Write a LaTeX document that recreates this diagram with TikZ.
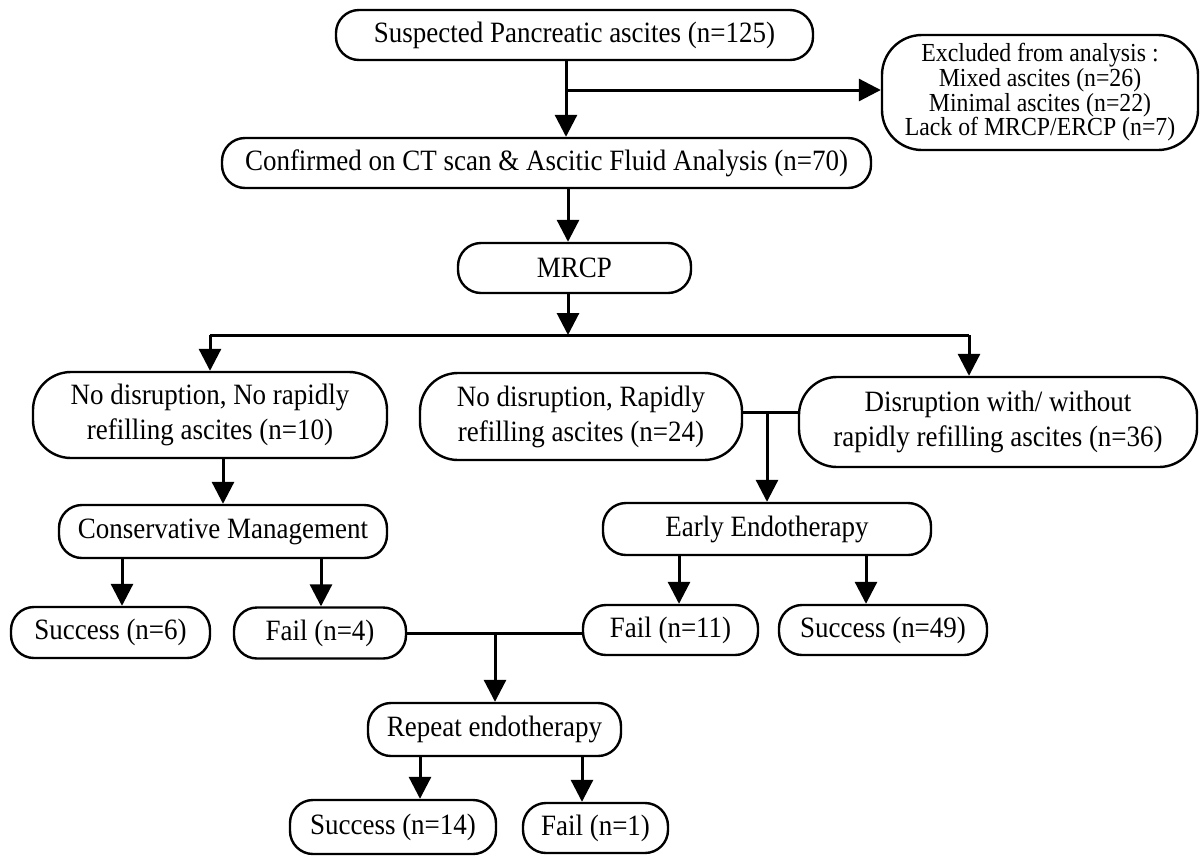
\documentclass[tikz,border=0pt]{standalone}
\usepackage{fontspec}
\setmainfont{Liberation Serif}[FakeStretch=0.915]
\usetikzlibrary{arrows.meta}
\begin{document}
\begin{tikzpicture}[x=1pt,y=-1pt,
  box/.style={draw, line width=2.4pt, rounded corners=23pt, align=center, inner sep=0pt,
    font=\fontsize{29.5}{35}\selectfont},
  tall/.style={box, rounded corners=38pt},
  arr/.style={line width=3pt, -{Triangle[length=22pt,width=22pt]}},
  conn/.style={line width=3pt}]
\fill[white] (0,0) rectangle (1200,855);
\useasboundingbox (0,0) rectangle (1200,855);

% nodes
\node[box, minimum width=477pt, minimum height=50pt] (sus) at (574.5,35) {Suspected Pancreatic ascites (n=125)};
\node[box, rounded corners=40pt, minimum width=316pt, minimum height=115pt,
  font=\fontsize{26}{24.7}\selectfont] (excl) at (1040,92.5)
  {Excluded from analysis :\\ Mixed ascites (n=26)\\ Minimal ascites (n=22)\\ Lack of MRCP/ERCP (n=7)};
\node[box, minimum width=649pt, minimum height=50pt] (conf) at (546.5,163) {Confirmed on CT scan \& Ascitic Fluid Analysis (n=70)};
\node[box, minimum width=233pt, minimum height=50pt] (mrcp) at (574.5,268) {MRCP};
\node[tall, minimum width=354pt, minimum height=86pt] (nd1) at (210,415) {No disruption, No rapidly\\ refilling ascites (n=10)};
\node[tall, minimum width=322pt, minimum height=87pt] (nd2) at (581,416.5) {No disruption, Rapidly\\ refilling ascites (n=24)};
\node[tall, minimum width=398pt, minimum height=90pt] (dis) at (998,422) {Disruption with/ without\\ rapidly refilling ascites (n=36)};
\node[box, minimum width=328pt, minimum height=53pt] (cons) at (223,531.5) {Conservative Management};
\node[box, minimum width=328pt, minimum height=52pt] (early) at (767,529) {Early Endotherapy};
\node[box, minimum width=199pt, minimum height=51pt] (s6) at (110.5,632.5) {Success (n=6)};
\node[box, minimum width=172pt, minimum height=51pt] (f4) at (320,633) {Fail (n=4)};
\node[box, minimum width=175pt, minimum height=50pt] (f11) at (670.5,630) {Fail (n=11)};
\node[box, minimum width=208pt, minimum height=50pt] (s49) at (883,630) {Success (n=49)};
\node[box, minimum width=253pt, minimum height=53pt] (rep) at (494.5,729.5) {Repeat endotherapy};
\node[box, minimum width=206pt, minimum height=54pt] (s14) at (393,827) {Success (n=14)};
\node[box, minimum width=145pt, minimum height=50pt] (f1) at (595.5,828) {Fail (n=1)};

% helper coordinates
\coordinate (xa) at (566,0);
\coordinate (b1) at (566,90);
\coordinate (xb) at (568,0);
\coordinate (j1) at (568,335);
\coordinate (jl) at (210,335);
\coordinate (jr) at (969,335);
\coordinate (j2) at (767,412);
\coordinate (xc) at (122,0);
\coordinate (xd) at (321,0);
\coordinate (xe) at (679,0);
\coordinate (xf) at (866,0);
\coordinate (j3) at (495,633);
\coordinate (xg) at (420,0);
\coordinate (xh) at (582,0);

% connectors
\draw[arr] (sus.south -| xa) -- (conf.north -| xa);
\draw[arr] (b1) -- (b1 -| excl.west);
\draw[arr] (conf.south -| xb) -- (mrcp.north -| xb);
\draw[arr] (mrcp.south -| j1) -- (j1);
\draw[conn] (jl) -- (jr);
\draw[arr] (jl) -- (jl |- nd1.north);
\draw[arr] (jr) -- (jr |- dis.north);
\draw[conn] (nd2.east |- j2) -- (dis.west |- j2);
\draw[arr] (j2) -- (early.north);
\draw[arr] (nd1.south -| cons) -- (cons.north);
\draw[arr] (cons.south -| xc) -- (s6.north -| xc);
\draw[arr] (cons.south -| xd) -- (f4.north -| xd);
\draw[arr] (early.south -| xe) -- (f11.north -| xe);
\draw[arr] (early.south -| xf) -- (s49.north -| xf);
\draw[conn] (f4.east |- j3) -- (f11.west |- j3);
\draw[arr] (j3) -- (j3 |- rep.north);
\draw[arr] (rep.south -| xg) -- (s14.north -| xg);
\draw[arr] (rep.south -| xh) -- (f1.north -| xh);
\end{tikzpicture}
\end{document}
